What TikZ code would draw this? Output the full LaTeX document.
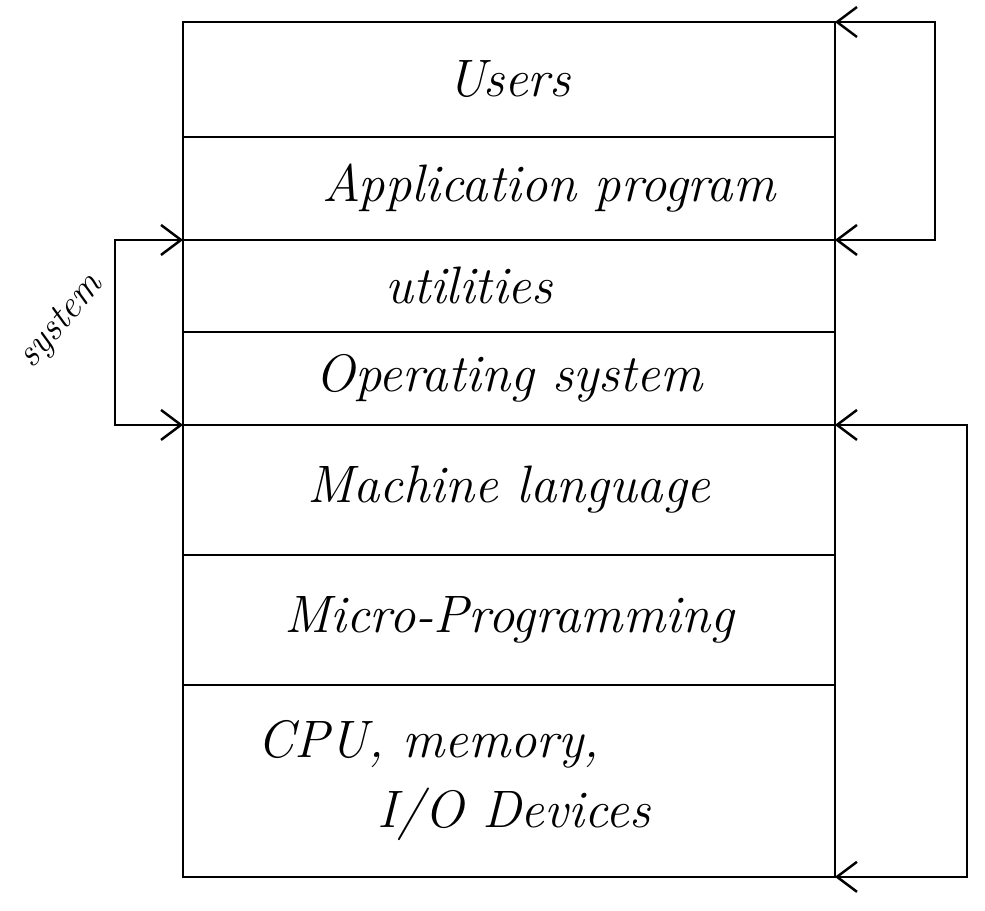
\documentclass[tikz,border=0pt]{standalone}
\usepackage{fontspec}
\usepackage{tikz}
\usetikzlibrary{arrows.meta, positioning}

\tikzset{
  layer/.style={draw, line width=1.4pt, minimum width=13.04cm, inner sep=0pt,
    outer sep=0pt, font=\fontsize{30}{40}\selectfont\itshape},
  loopback/.style={line width=1.4pt, {Straight Barb[length=4mm,width=6mm]}-{Straight Barb[length=4mm,width=6mm]}}
}

\begin{document}
\begin{tikzpicture}[x=0.02cm, y=-0.02cm]
  \useasboundingbox (0,0) rectangle (985,911);

  % --- Layer stack (top to bottom) ---
  \node[layer, minimum height=2.3cm] (users) at (509,79.5) {Users};
  \node[layer, minimum height=2.06cm, below=0pt of users] (apps) {\hspace{1.6cm}Application program};
  \node[layer, minimum height=1.84cm, below=0pt of apps] (utils) {utilities\hspace{1.6cm}\mbox{}};
  \node[layer, minimum height=1.86cm, below=0pt of utils] (os) {Operating system};
  \node[layer, minimum height=2.6cm, below=0pt of os] (mach) {Machine language};
  \node[layer, minimum height=2.6cm, below=0pt of mach] (micro) {Micro-Programming};
  \node[layer, minimum height=3.84cm, below=0pt of micro, align=left] (hw)
    {CPU, memory,\\\hspace{2.4cm}I/O Devices\hspace{2.2cm}\mbox{}};

  % --- Brackets on the right ---
  \draw[loopback] (users.north east) -- ++(100,0) |- (apps.south east);
  \draw[loopback] (mach.north east) -- ++(132,0) |- (hw.south east);

  % --- Bracket on the left: system ---
  \draw[loopback] (utils.north west) -- ++(-68,0) |- (os.south west);
  \node[rotate=50, font=\fontsize{22}{26}\selectfont\itshape] (sys) at (62,322) {system};

\end{tikzpicture}
\end{document}
